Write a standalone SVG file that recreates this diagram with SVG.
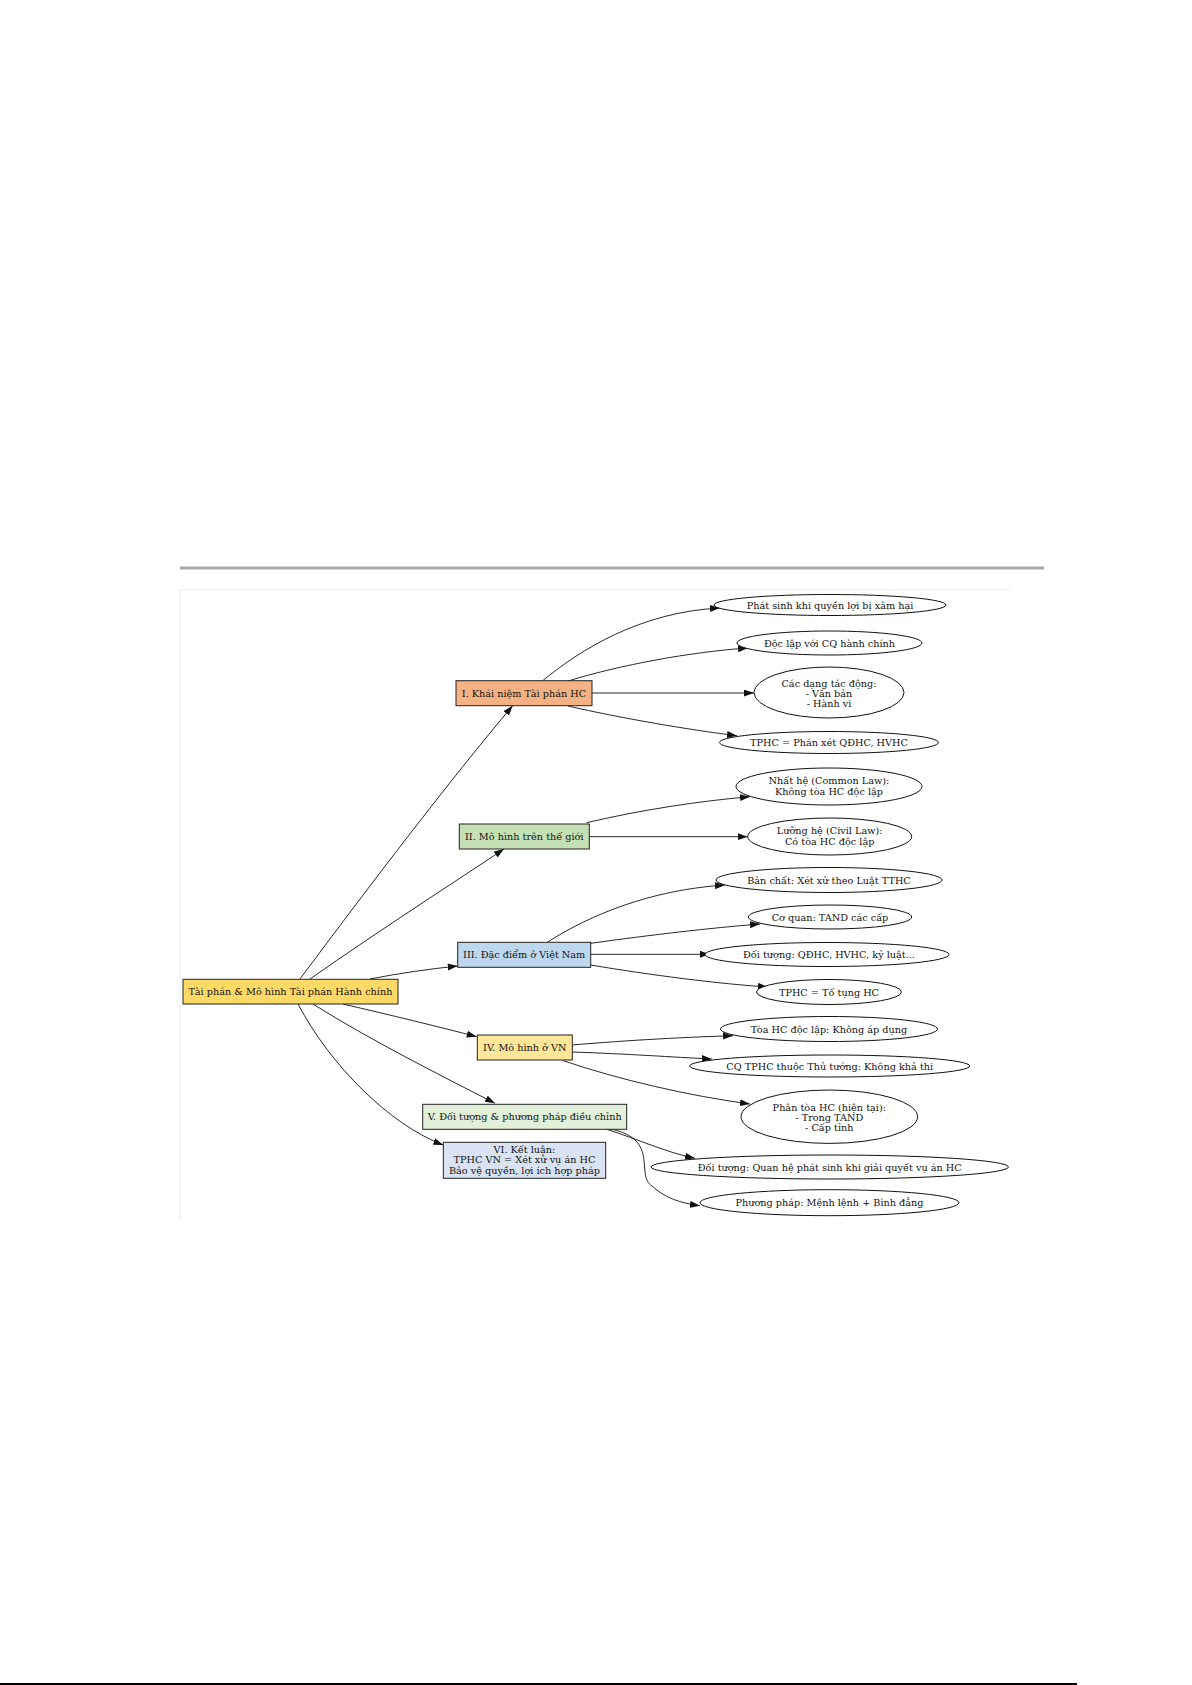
<svg xmlns="http://www.w3.org/2000/svg" width="1192" height="1685" viewBox="0 0 1192 1685">
<style>
text{font-family:"DejaVu Serif","Liberation Serif",serif;font-size:9.7px;fill:#111;text-anchor:middle}
.box{stroke:#222;stroke-width:1}
.ell{fill:#fff;stroke:#111;stroke-width:1}
.edge{fill:none;stroke:#111;stroke-width:0.9;marker-end:url(#arr)}
</style>
<defs>
<marker id="arr" markerUnits="userSpaceOnUse" markerWidth="10" markerHeight="8" refX="10" refY="3.5" orient="auto">
<path d="M0,0 L10,3.5 L0,7 z" fill="#111"/>
</marker>
</defs>
<rect width="1192" height="1685" fill="#fff"/>
<line x1="180" y1="568" x2="1044" y2="568" stroke="#aaa" stroke-width="3"/>
<path d="M180,1220 L180,589.5 L1010,589.5" fill="none" stroke="#ececec" stroke-width="1"/>
<line x1="0" y1="1684" x2="1077" y2="1684" stroke="#000" stroke-width="2"/>

<g id="connectors">
<path class="edge" d="M300,979 C370,885 450,780 512.7,705.7"/>
<path class="edge" d="M310,979 C380,930 450,885 504,849"/>
<path class="edge" d="M370,979 C400,973 430,969 457.7,966"/>
<path class="edge" d="M343,1004 C390,1015 440,1027 476.7,1036.7"/>
<path class="edge" d="M313,1004 C370,1040 440,1075 495,1103.3"/>
<path class="edge" d="M298,1004 C330,1065 390,1125 443.3,1145"/>

<path class="edge" d="M542.7,680.7 C580,650 640,612 720,608"/>
<path class="edge" d="M568,681 C620,665 690,652 748,648"/>
<path class="edge" d="M592,693 L754,693"/>
<path class="edge" d="M568,706 C620,718 690,730 737,735.7"/>

<path class="edge" d="M586.7,822.7 C640,810 700,801 750,796.7"/>
<path class="edge" d="M589.3,836.7 L747.7,836.7"/>

<path class="edge" d="M547.7,942 C590,915 650,890 725,885"/>
<path class="edge" d="M590.7,943.3 C650,935 710,928 760,924"/>
<path class="edge" d="M590.7,954.3 L710,954.3"/>
<path class="edge" d="M590.7,965 C650,975 720,984 768,987"/>

<path class="edge" d="M572.3,1045 C630,1040 690,1037 733,1035.7"/>
<path class="edge" d="M572.3,1052 C630,1054 670,1057 711.7,1059"/>
<path class="edge" d="M563.3,1060.7 C620,1080 690,1096 750,1104"/>

<path class="edge" d="M606.7,1129.3 C640,1140 665,1152 695,1158.3"/>
<path class="edge" d="M612,1129.3 C660,1140 635,1175 652,1186 C665,1198 680,1203 700,1205.7"/>
</g>

<g id="root"><rect class="box" x="183" y="979.3" width="215" height="24.7" fill="#FFD966"/><text x="290.5" y="995">Tài phán &amp; Mô hình Tài phán Hành chính</text></g>

<g id="n1"><rect class="box" x="456" y="680.7" width="136" height="25" fill="#F4B183"/><text x="524" y="696.5">I. Khái niệm Tài phán HC</text></g>
<g id="n2"><rect class="box" x="459.3" y="824" width="130" height="25" fill="#C5E0B4"/><text x="524.3" y="839.8">II. Mô hình trên thế giới</text></g>
<g id="n3"><rect class="box" x="457.7" y="942.3" width="133" height="25" fill="#BDD7EE"/><text x="524.2" y="958">III. Đặc điểm ở Việt Nam</text></g>
<g id="n4"><rect class="box" x="477.3" y="1035" width="95" height="25" fill="#FFE699"/><text x="524.8" y="1050.8">IV. Mô hình ở VN</text></g>
<g id="n5"><rect class="box" x="422.7" y="1104.3" width="204" height="25" fill="#E2F0D9"/><text x="524.7" y="1120">V. Đối tượng &amp; phương pháp điều chỉnh</text></g>
<g id="n6"><rect class="box" x="443.3" y="1142.3" width="162.4" height="36" fill="#DAE3F3"/><text x="524.5" y="1152.5">VI. Kết luận:</text><text x="524.5" y="1163">TPHC VN = Xét xử vụ án HC</text><text x="524.5" y="1173.5">Bảo vệ quyền, lợi ích hợp pháp</text></g>

<g id="e1a"><ellipse class="ell" cx="830" cy="605" rx="116" ry="10.5"/><text x="830" y="608.5">Phát sinh khi quyền lợi bị xâm hại</text></g>
<g id="e1b"><ellipse class="ell" cx="829.5" cy="643" rx="92.5" ry="12"/><text x="829.5" y="646.5">Độc lập với CQ hành chính</text></g>
<g id="e1c"><ellipse class="ell" cx="829" cy="692.5" rx="75" ry="25.5"/><text x="829" y="686.5">Các dạng tác động:</text><text x="829" y="696.5">- Văn bản</text><text x="829" y="706.5">- Hành vi</text></g>
<g id="e1d"><ellipse class="ell" cx="829" cy="742.5" rx="109.5" ry="11"/><text x="829" y="746">TPHC = Phán xét QĐHC, HVHC</text></g>

<g id="e2a"><ellipse class="ell" cx="829" cy="786.5" rx="93" ry="18.5"/><text x="829" y="784">Nhất hệ (Common Law):</text><text x="829" y="794.5">Không tòa HC độc lập</text></g>
<g id="e2b"><ellipse class="ell" cx="829.7" cy="836.5" rx="82" ry="18.5"/><text x="829.7" y="834">Lưỡng hệ (Civil Law):</text><text x="829.7" y="844.5">Có tòa HC độc lập</text></g>

<g id="e3a"><ellipse class="ell" cx="829" cy="880" rx="113" ry="12.5"/><text x="829" y="883.5">Bản chất: Xét xử theo Luật TTHC</text></g>
<g id="e3b"><ellipse class="ell" cx="830" cy="917" rx="81.7" ry="12"/><text x="830" y="920.5">Cơ quan: TAND các cấp</text></g>
<g id="e3c"><ellipse class="ell" cx="827" cy="954.5" rx="122" ry="12"/><text x="829" y="958">Đối tượng: QĐHC, HVHC, kỷ luật...</text></g>
<g id="e3d"><ellipse class="ell" cx="829" cy="992" rx="72.5" ry="12.5"/><text x="829" y="995.5">TPHC = Tố tụng HC</text></g>

<g id="e4a"><ellipse class="ell" cx="829" cy="1029" rx="108.5" ry="12.5"/><text x="829" y="1032.5">Tòa HC độc lập: Không áp dụng</text></g>
<g id="e4b"><ellipse class="ell" cx="829.7" cy="1066" rx="140" ry="11"/><text x="829.7" y="1069.5">CQ TPHC thuộc Thủ tướng: Không khả thi</text></g>
<g id="e4c"><ellipse class="ell" cx="829.3" cy="1116.7" rx="88.3" ry="26.7"/><text x="829.3" y="1110.5">Phân tòa HC (hiện tại):</text><text x="829.3" y="1120.5">- Trong TAND</text><text x="829.3" y="1130.5">- Cấp tỉnh</text></g>

<g id="e5a"><ellipse class="ell" cx="829.7" cy="1167" rx="178.7" ry="12"/><text x="829.7" y="1170.5">Đối tượng: Quan hệ phát sinh khi giải quyết vụ án HC</text></g>
<g id="e5b"><ellipse class="ell" cx="829.5" cy="1202.7" rx="129.5" ry="13"/><text x="829.5" y="1206.2">Phương pháp: Mệnh lệnh + Bình đẳng</text></g>
</svg>
